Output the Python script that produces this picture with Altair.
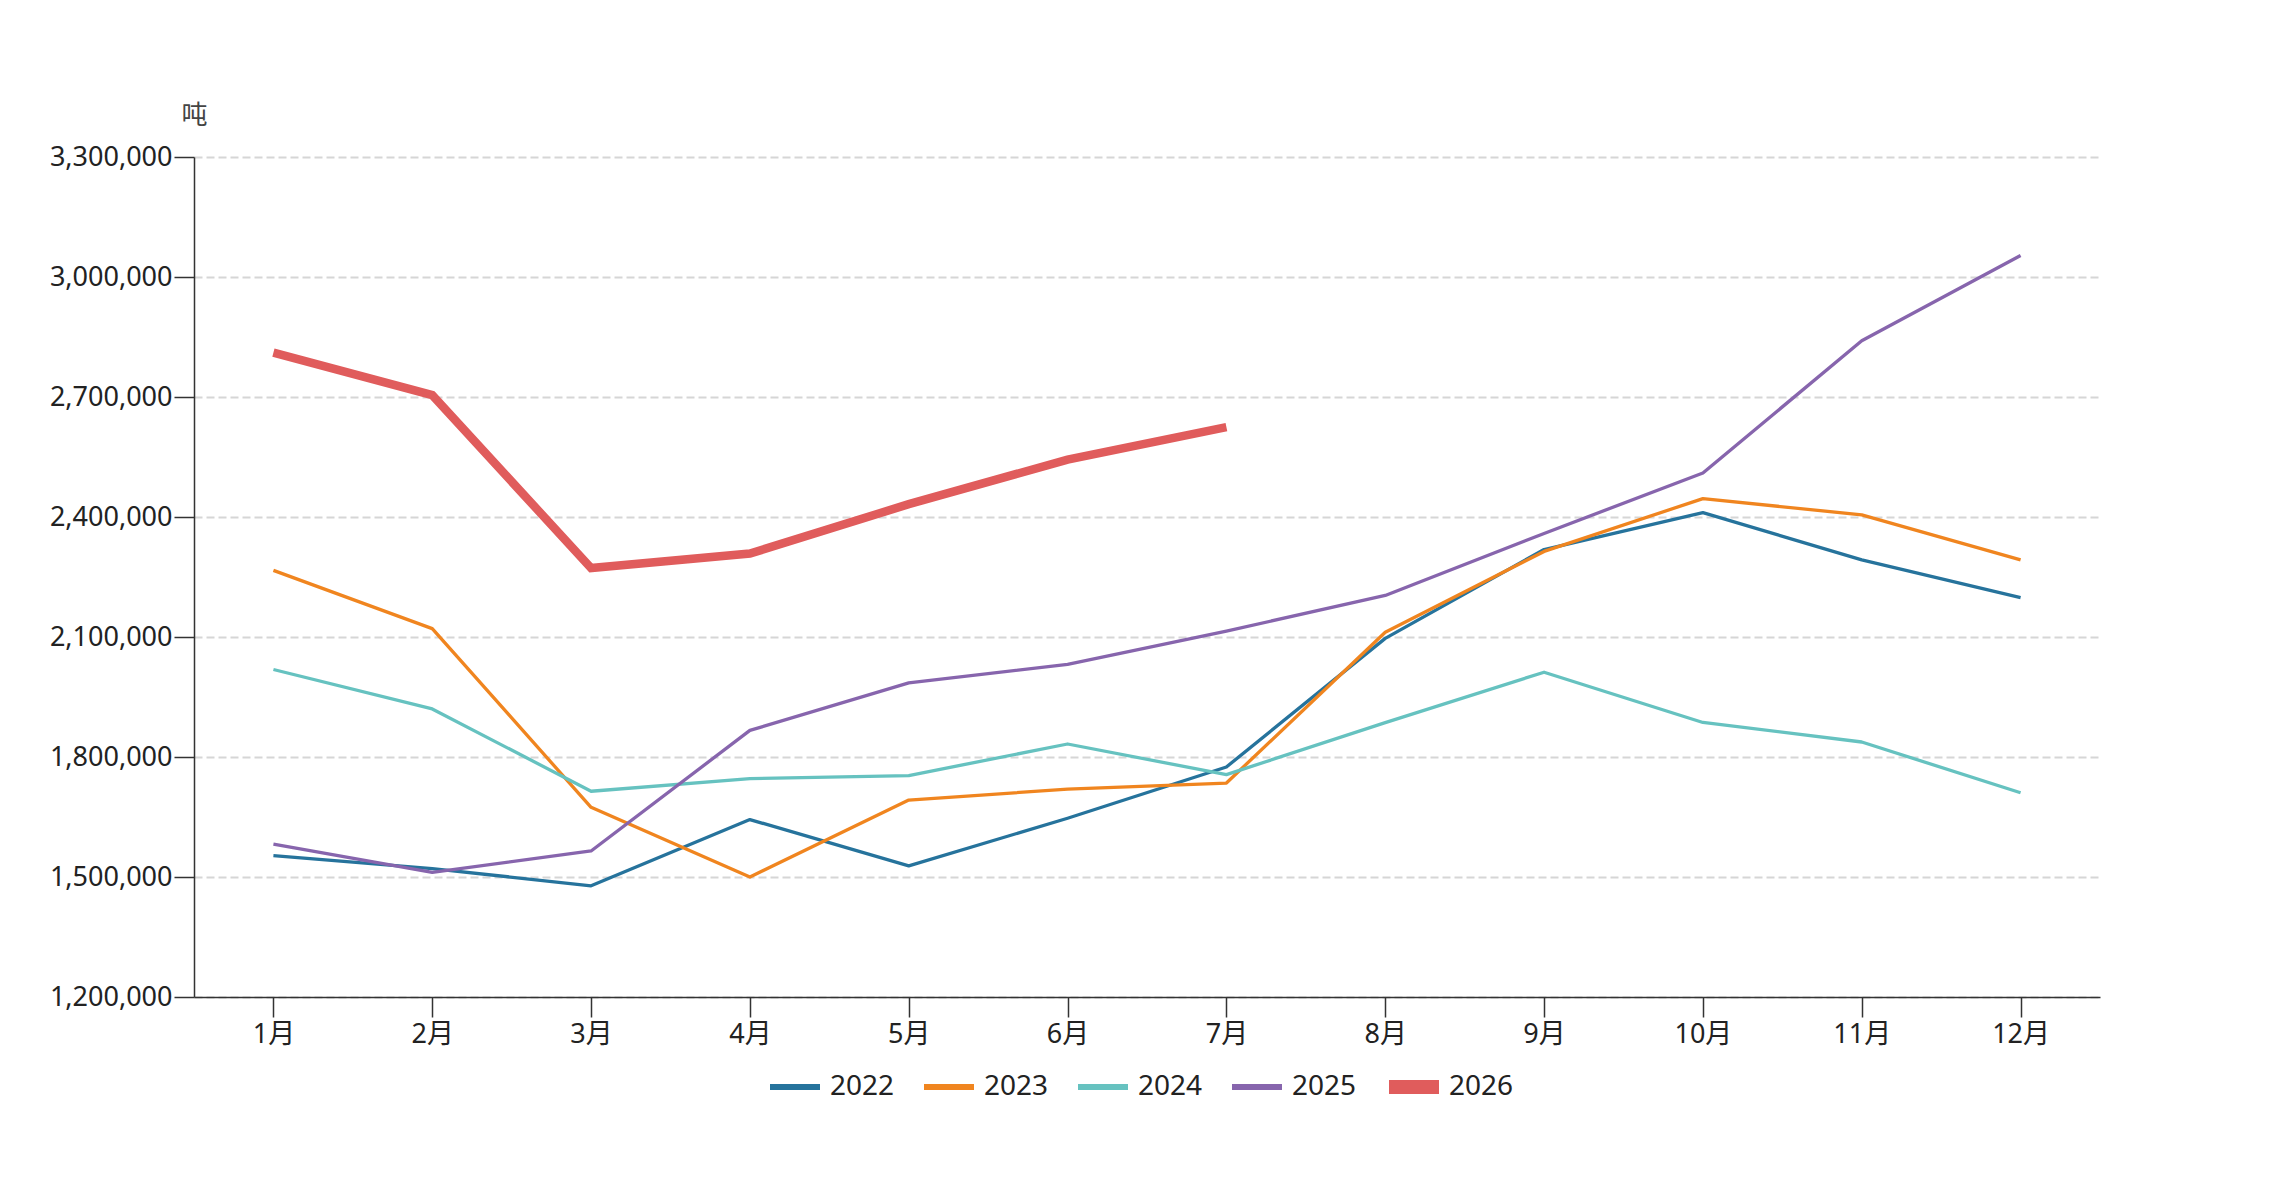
import altair as alt
import pandas as pd

months = ["1月", "2月", "3月", "4月", "5月", "6月", "7月", "8月", "9月", "10月", "11月", "12月"]
years = ["2022", "2023", "2024", "2025", "2026"]

v2022 = [1553600, 1521000, 1478000, 1643600, 1527800, 1646800, 1775100, 2096600, 2318700, 2411000, 2292900, 2198700]
v2023 = [2266500, 2121000, 1674200, 1500000, 1692300, 1719600, 1734900, 2111900, 2313900, 2446000, 2405300, 2292900]
v2024 = [2018700, 1920100, 1714400, 1746000, 1753600, 1832500, 1756000, 1886100, 2011900, 1886300, 1837500, 1710700]
v2025 = [1582300, 1511500, 1565100, 1866500, 1985200, 2031600, 2114800, 2203800, 2358900, 2510000, 2840500, 3053800]
v2026 = [2811000, 2704800, 2272250, 2308600, 2432000, 2543500, 2624900]

y_ticks = [1200000, 1500000, 1800000, 2100000, 2400000, 2700000, 3000000, 3300000]
colors = ["#26739c", "#f0851f", "#66c2c0", "#8765ad", "#e05c5c"]

rows = []
for yr, vals in zip(years, [v2022, v2023, v2024, v2025, v2026]):
    for i, v in enumerate(vals):
        rows.append({"month": months[i], "idx": i, "year": yr, "value": v})
df = pd.DataFrame(rows)

FONT = "Noto Sans, Noto Sans CJK SC, sans-serif"

def make_legend(x, y, sw, off):
    return alt.Legend(title=None, orient="none", direction="horizontal",
                      legendX=x, legendY=y,
                      symbolType="stroke", symbolSize=2500, symbolStrokeWidth=sw,
                      labelFontSize=28, labelFont=FONT, labelColor="#222222",
                      labelOffset=off, columnPadding=17)

x_enc = alt.X("month:N", sort=months,
              scale=alt.Scale(type="point", padding=0.5),
              axis=alt.Axis(title=None, labelAngle=0, labelFontSize=27, labelFont=FONT,
                            labelColor="#222222", tickSize=20, tickColor="#333333",
                            tickWidth=1.5, domainColor="#333333", domainWidth=1.5,
                            labelPadding=4, grid=False))
y_enc = alt.Y("value:Q",
              scale=alt.Scale(domain=[1200000, 3300000], nice=False, zero=False),
              axis=alt.Axis(values=y_ticks, format=",.0f", title="吨", titleAngle=0,
                            titleX=0, titleY=-42, titleAlign="center", titleBaseline="middle",
                            titleFont=FONT, titleFontSize=26, titleFontWeight="normal",
                            titleColor="#444444",
                            labelFontSize=27, labelFont=FONT, labelColor="#222222",
                            labelPadding=2, tickSize=20, tickColor="#333333", tickWidth=1.5,
                            domainColor="#333333", domainWidth=1.5,
                            grid=True, gridDash=[8, 4], gridColor="#d6d6d6", gridWidth=2))

base = alt.Chart(df)

thin = base.transform_filter(alt.datum.year != "2026").mark_line(strokeJoin="round").encode(
    x=x_enc, y=y_enc,
    stroke=alt.Stroke("year:N", scale=alt.Scale(domain=years[:4], range=colors[:4]),
                      legend=make_legend(573, 902, 6, 7)),
    strokeWidth=alt.value(3.3),
    order=alt.Order("idx:Q"))

thick = base.transform_filter(alt.datum.year == "2026").mark_line().encode(
    x=x_enc, y=y_enc,
    color=alt.Color("year:N", scale=alt.Scale(domain=years[4:], range=colors[4:]),
                    legend=make_legend(1188, 898, 14, 3)),
    strokeWidth=alt.value(8.5),
    order=alt.Order("idx:Q"))

chart = alt.layer(thin, thick).resolve_scale(color="independent", stroke="independent").properties(
    width=1906, height=840,
    padding={"left": 186, "top": 149, "right": 150, "bottom": 173},
    autosize=alt.AutoSizeParams(type="none"),
    background="white",
).configure_view(stroke=None)

chart.save("out.html", embed_options={"renderer": "svg", "actions": False})
